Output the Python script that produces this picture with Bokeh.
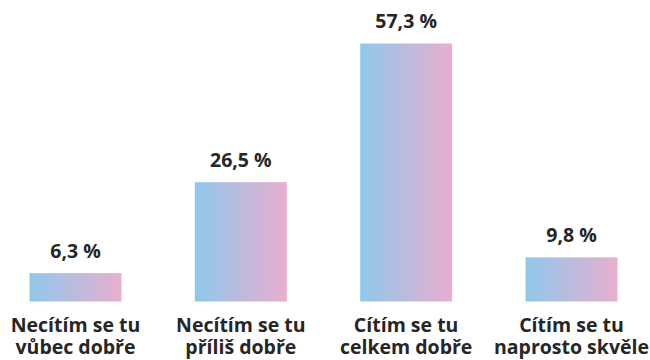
import numpy as np
from bokeh.plotting import figure
from bokeh.models import ColumnDataSource, Range1d
from bokeh.core.properties import value
from bokeh.embed import file_html
from bokeh.resources import INLINE

# ---- data ----
line1 = ["Necítím se tu", "Necítím se tu", "Cítím se tu", "Cítím se tu"]
line2 = ["vůbec dobře", "příliš dobře", "celkem dobře", "naprosto skvěle"]
values = [6.3, 26.5, 57.3, 9.8]

# ---- style ----
LEFT = (144, 200, 236)
RIGHT = (234, 174, 207)
TEXT = "#262626"
FONT = "Open Sans"
BAR_W = 0.556
N_COLS = 92

p = figure(width=650, height=360, output_backend="svg", toolbar_location=None,
           x_range=Range1d(-0.4536, 3.478), y_range=Range1d(-13.1, 66.85),
           min_border=0, min_border_left=0, min_border_right=0,
           min_border_top=0, min_border_bottom=0)
p.axis.visible = False
p.grid.visible = False
p.outline_line_color = None
p.background_fill_color = "white"
p.border_fill_color = "white"

xs = list(range(len(values)))

# horizontal gradient image (1 row, N_COLS columns)
grad = np.zeros((1, N_COLS), dtype=np.uint32)
view = grad.view(dtype=np.uint8).reshape((1, N_COLS, 4))
for k in range(N_COLS):
    t = k / (N_COLS - 1)
    for j in range(3):
        view[0, k, j] = round(LEFT[j] + (RIGHT[j] - LEFT[j]) * t)
    view[0, k, 3] = 255

p.image_rgba(image=[grad] * len(values),
             x=[i - BAR_W / 2 for i in xs], y=[0] * len(values),
             dw=[BAR_W] * len(values), dh=values)

src = ColumnDataSource(dict(
    x=xs, y=values, zero=[0] * len(values),
    lab=[f"{v:.1f}".replace(".", ",") + " %" for v in values],
    l1=line1, l2=line2))

common = dict(text_font=value(FONT), text_font_style="bold",
              text_font_size="19.5px", text_color=TEXT, text_align="center",
              text_baseline="alphabetic")
p.text(x="x", y="y", text="lab", y_offset=-23, source=src, **common)
p.text(x="x", y="zero", text="l1", y_offset=23, source=src, **common)
p.text(x="x", y="zero", text="l2", y_offset=45, source=src, **common)

open("out.html", "w").write(file_html(p, INLINE))
